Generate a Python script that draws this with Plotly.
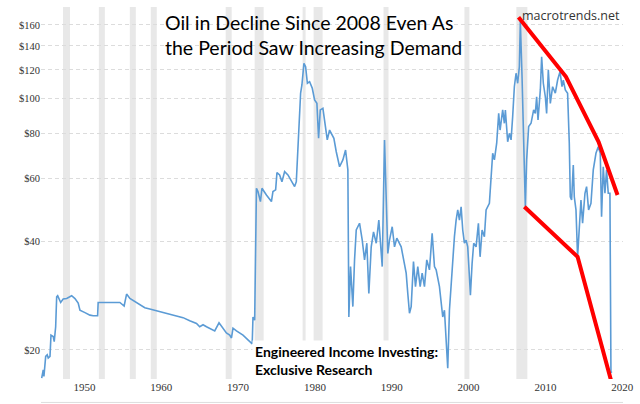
import plotly.graph_objects as go

# ---- data (x = year as read on the axis, y = price in $) ----
oil_years = [
    1944.44, 1944.64, 1944.73, 1944.96, 1945.16, 1945.29, 1945.52, 1945.65, 1945.94, 1946.07,
    1946.26, 1946.39, 1946.52, 1946.91, 1947.24, 1947.69, 1948.34, 1948.77, 1949.19, 1949.42,
    1950.07, 1950.72, 1951.14, 1951.72, 1951.79, 1952.89, 1953.74, 1954.19, 1954.62, 1955.17,
    1955.49, 1955.92, 1956.27, 1956.79, 1957.21, 1957.86, 1958.51, 1959.39, 1960.24, 1961.54,
    1962.84, 1963.71, 1964.59, 1965.01, 1965.44, 1965.89, 1966.31, 1966.96, 1967.52, 1968.04,
    1968.48, 1968.91, 1969.14, 1969.34, 1969.79, 1970.64, 1971.51, 1971.84, 1971.94, 1972.16,
    1972.39, 1972.59, 1972.91, 1973.11, 1973.69, 1974.34, 1974.54, 1974.89, 1975.06, 1975.41,
    1975.71, 1976.06, 1976.49, 1976.94, 1977.36, 1977.58, 1977.71, 1977.92, 1978.14, 1978.31,
    1978.57, 1978.79, 1979.02, 1979.31, 1979.66, 1979.96, 1980.26, 1980.48, 1980.70, 1981.04,
    1981.39, 1981.61, 1981.91, 1982.47, 1982.78, 1983.21, 1983.64, 1983.99, 1984.29, 1984.42,
    1984.64, 1984.94, 1985.16, 1985.38, 1985.81, 1986.16, 1986.46, 1986.76, 1987.02, 1987.33,
    1987.63, 1987.98, 1988.32, 1988.76, 1989.06, 1989.28, 1989.49, 1989.71, 1990.06, 1990.36,
    1990.66, 1991.23, 1991.57, 1991.88, 1992.09, 1992.31, 1992.53, 1992.83, 1993.09, 1993.39,
    1993.70, 1993.96, 1994.26, 1994.56, 1994.91, 1995.26, 1995.56, 1995.78, 1996.21, 1996.64,
    1996.86, 1997.08, 1997.29, 1997.51, 1997.73, 1997.94, 1998.16, 1998.38, 1998.59, 1998.81,
    1999.03, 1999.24, 1999.46, 1999.68, 1999.89, 2000.11, 2000.24, 2000.46, 2000.67, 2000.98,
    2001.28, 2001.50, 2001.76, 2002.06, 2002.28, 2002.71, 2002.93, 2003.14, 2003.36, 2003.66,
    2003.92, 2004.10, 2004.44, 2004.66, 2004.79, 2005.09, 2005.31, 2005.53, 2005.74, 2005.96,
    2006.18, 2006.39, 2006.61, 2006.74, 2006.96, 2007.13, 2007.39, 2007.56, 2007.82, 2008.13,
    2008.47, 2008.69, 2008.86, 2009.04, 2009.34, 2009.51, 2009.73, 2009.99, 2010.16, 2010.38,
    2010.64, 2010.94, 2011.29, 2011.59, 2011.90, 2012.16, 2012.33, 2012.59, 2012.89, 2013.11,
    2013.24, 2013.41, 2013.63, 2013.76, 2013.98, 2014.19, 2014.41, 2014.63, 2014.84, 2015.15,
    2015.36, 2015.62, 2015.93, 2016.23, 2016.58, 2016.88, 2017.14, 2017.31, 2017.53, 2017.75,
    2017.96, 2018.18, 2018.40, 2018.53, 2018.66,
]
oil_prices = [
    16.7, 17.6, 16.9, 19.2, 19.4, 19.0, 19.2, 22.0, 21.8, 21.1,
    23.2, 28.1, 28.3, 27.1, 27.7, 27.8, 28.3, 27.8, 27.0, 25.8,
    25.4, 25.0, 24.9, 24.9, 27.1, 27.1, 27.2, 27.1, 27.1, 26.5,
    28.6, 27.8, 27.5, 27.2, 26.8, 26.2, 26.0, 25.7, 25.5, 25.1,
    24.6, 24.1, 23.7, 23.2, 23.5, 23.2, 23.0, 22.6, 23.8, 23.0,
    22.3, 22.0, 21.6, 23.0, 22.6, 22.0, 21.2, 20.8, 24.7, 24.2,
    56.3, 55.1, 51.7, 56.3, 53.9, 51.7, 55.1, 55.7, 62.2, 61.3,
    58.7, 62.6, 61.3, 58.7, 56.9, 58.7, 67.5, 83.5, 103.4, 109.0,
    125.2, 122.5, 110.2, 111.3, 106.7, 99.0, 96.9, 77.5, 92.9, 93.9,
    82.6, 76.7, 81.7, 77.5, 71.1, 64.6, 67.5, 71.9, 63.3, 24.7,
    34.1, 26.4, 35.6, 43.1, 45.0, 40.4, 35.6, 39.6, 28.7, 38.7,
    42.6, 39.6, 45.9, 34.1, 76.7, 54.5, 37.1, 40.4, 44.0, 38.7,
    40.9, 38.7, 35.6, 32.7, 28.7, 25.3, 26.4, 35.2, 30.0, 34.1,
    30.0, 32.7, 30.0, 35.6, 33.4, 42.2, 34.1, 33.4, 30.0, 24.7,
    25.8, 21.3, 17.8, 25.8, 30.6, 34.8, 41.3, 45.9, 49.0, 45.9,
    50.0, 43.1, 39.6, 40.4, 38.7, 32.0, 28.4, 34.8, 39.6, 38.7,
    45.0, 36.3, 43.1, 41.3, 49.0, 51.1, 59.3, 70.4, 67.5, 75.1,
    90.9, 81.7, 92.9, 85.3, 92.9, 75.8, 80.0, 76.7, 89.0, 107.8,
    117.5, 110.2, 122.5, 163.4, 114.9, 75.1, 50.0, 67.5, 83.5, 85.3,
    92.9, 90.9, 101.1, 87.1, 105.6, 130.6, 110.2, 101.1, 90.9, 120.0,
    96.9, 107.8, 103.4, 112.5, 118.7, 107.8, 112.5, 105.6, 103.4, 75.1,
    53.3, 52.2, 65.3, 53.3, 49.0, 36.3, 44.0, 52.2, 45.0, 54.5,
    56.9, 49.0, 51.1, 63.3, 70.4, 73.4, 70.4, 46.9, 64.6, 54.5,
    63.3, 54.5, 54.5, 17.4, 17.3,
]

# recession periods (start, end) as read on the axis
recession_starts = [1947.21, 1951.88, 1955.91, 1958.64, 1968.39, 1972.16, 1978.40, 1979.83, 1988.93, 1999.46, 2006.22]
recession_ends = [1948.12, 1952.66, 1956.69, 1959.42, 1969.17, 1973.33, 1978.79, 1981.00, 1989.58, 2000.11, 2007.65]

# red hand-drawn trend lines
upper_trend_years = [2006.50, 2012.68, 2016.92, 2019.39]
upper_trend_prices = [168.1, 114.9, 75.8, 53.9]
lower_trend_years = [2007.26, 2014.19, 2018.53]
lower_trend_prices = [50.0, 36.3, 16.5]

y_tick_values = [20, 40, 60, 80, 100, 120, 140, 160]
y_tick_labels = ["$20", "$40", "$60", "$80", "$100", "$120", "$140", "$160"]
x_tick_values = [1950, 1960, 1970, 1980, 1990, 2000, 2010, 2020]
x_tick_labels = ["1950", "1960", "1970", "1980", "1990", "2000", "2010", "2020"]

title_lines = ["Oil in Decline Since 2008 Even As", "the Period Saw Increasing Demand"]
source_text = "macrotrends.net"
credit_lines = ["Engineered Income Investing:", "Exclusive Research"]

# ---- figure ----
fig = go.Figure()

shapes = []
for s, e in zip(recession_starts, recession_ends):
    shapes.append(dict(type="rect", xref="x", yref="paper", x0=s, x1=e, y0=0, y1=1,
                       fillcolor="#e8e8e8", line=dict(width=0), layer="below"))
shapes.append(dict(type="line", xref="paper", yref="paper", x0=0, x1=1, y0=-0.063, y1=-0.063,
                   line=dict(color="#dddddd", width=1)))

fig.add_trace(go.Scatter(x=oil_years, y=oil_prices, mode="lines",
                         line=dict(color="#5b9bd5", width=1.6), hoverinfo="skip", showlegend=False))
fig.add_trace(go.Scatter(x=upper_trend_years, y=upper_trend_prices, mode="lines",
                         line=dict(color="#ff0000", width=4), hoverinfo="skip", showlegend=False))
fig.add_trace(go.Scatter(x=lower_trend_years, y=lower_trend_prices, mode="lines",
                         line=dict(color="#ff0000", width=4), hoverinfo="skip", showlegend=False))

annotations = [
    dict(text=title_lines[0], xref="paper", yref="paper", x=0.2096, y=0.957, xanchor="left", yanchor="middle",
         showarrow=False, font=dict(family="Lato", size=19.5, color="#000000")),
    dict(text=title_lines[1], xref="paper", yref="paper", x=0.2096, y=0.890, xanchor="left", yanchor="middle",
         showarrow=False, font=dict(family="Lato", size=19.5, color="#000000")),
    dict(text=source_text, xref="paper", yref="paper", x=0.998, y=0.9766, xanchor="right", yanchor="middle",
         showarrow=False, font=dict(family="Open Sans", size=12.5, color="#333333")),
    dict(text="<b>" + credit_lines[0] + "</b><br><b>" + credit_lines[1] + "</b>", xref="paper", yref="paper",
         x=0.3625, y=0.051, xanchor="left", yanchor="middle", align="left",
         showarrow=False, bgcolor="#ffffff", borderpad=2,
         font=dict(family="Lato", size=14, color="#000000")),
]

fig.update_layout(
    width=640, height=404,
    margin=dict(l=41, r=17, t=7, b=25, autoexpand=False),
    paper_bgcolor="#ffffff", plot_bgcolor="#ffffff",
    shapes=shapes, annotations=annotations,
    xaxis=dict(range=[1944.35, 2020.1], tickvals=x_tick_values, ticktext=x_tick_labels,
               showgrid=False, zeroline=False, showline=False, ticks="", automargin=False,
               tickfont=dict(family="Liberation Serif", size=11, color="#333333")),
    yaxis=dict(type="log", range=[1.2204, 2.2541], tickvals=y_tick_values, ticktext=y_tick_labels,
               showgrid=True, gridcolor="#dcdcdc", griddash="4px,3px", gridwidth=1,
               zeroline=False, showline=False, ticks="", automargin=False,
               tickfont=dict(family="Liberation Serif", size=10.5, color="#333333")),
)

fig.write_html("out.html", config={"displayModeBar": False},
               post_script="document.body.style.margin='0px';")
